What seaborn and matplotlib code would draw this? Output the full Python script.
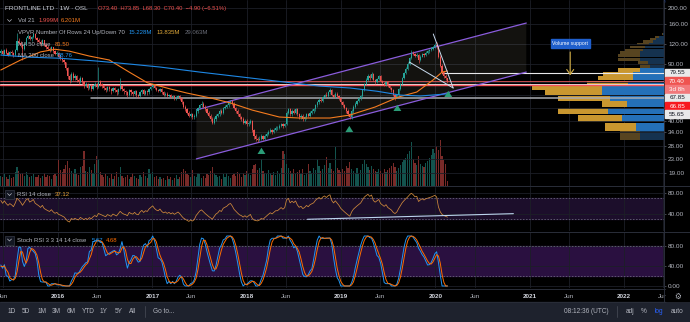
import numpy as np
import pandas as pd
import matplotlib
matplotlib.use("Agg")
import matplotlib.pyplot as plt
import matplotlib.dates as mdates
from matplotlib.ticker import FixedLocator, FuncFormatter, NullLocator
from matplotlib.patches import Rectangle, Polygon
from matplotlib.lines import Line2D
import seaborn as sns

# ---------------------------------------------------------------- data
last_week = "2020-02-17"
first_open = 106.0
closes = [
    108, 104, 110, 106, 103, 107, 105, 102, 110, 125,
    122, 118, 112, 120, 130, 135, 128, 132, 138, 130,
    127, 124, 120, 126, 118, 115, 112, 110, 114, 108,
    104, 106, 100, 98, 95, 92, 85, 76, 72, 78,
    74, 76, 72, 70, 74, 70, 66, 68, 64, 67,
    63, 66, 68, 65, 70, 68, 66, 64, 62, 65,
    63, 61, 64, 62, 60, 63, 66, 63, 61, 60,
    58, 62, 60, 59, 61, 58, 57, 60, 62, 59,
    61, 60, 63, 65, 67, 64, 62, 61, 63, 60,
    58, 59, 57, 58, 56, 57, 55, 56, 57, 55,
    52, 49, 47, 45, 43, 44, 42, 43, 46, 48,
    50, 51, 49, 47, 45, 43, 41, 39, 41, 43,
    44, 46, 45, 48, 49, 50, 52, 53, 51, 48,
    46, 44, 42, 41, 39, 40, 38, 39, 40, 35,
    32, 31, 30.5, 31, 32, 31, 32, 33, 34, 35,
    34, 35, 36, 36, 37, 38, 37, 38, 45, 47,
    44, 46, 45, 47, 44, 42, 43, 41, 42, 44,
    43, 45, 46, 47, 50, 52, 54, 53, 56, 58,
    57, 60, 62, 58, 56, 59, 57, 55, 52, 50,
    48, 46, 44, 42, 46, 49, 51, 53, 55, 57,
    62, 68, 72, 76, 74, 78, 72, 70, 73, 76,
    71, 69, 67, 70, 66, 64, 62, 58, 56, 58,
    63, 68, 74, 79, 84, 90, 98, 106, 104, 101,
    103, 95, 100, 104, 102, 106, 108, 110, 112, 115,
    118, 116, 100, 88, 80, 76, 73.4, 70.4,
]
highs = [
    111, 110, 112, 113, 108, 109, 110, 107, 112, 140,
    130, 125, 120, 122, 133, 138, 137, 135, 141, 140,
    133, 130, 126, 128, 127, 121, 118, 115, 116, 115,
    110, 108, 107, 103, 100, 97, 93, 86, 78, 80,
    80, 78, 77, 74, 76, 75, 71, 70, 69, 68,
    68, 67, 70, 69, 86, 72, 69, 67, 65, 66,
    66, 64, 65, 65, 63, 64, 74, 67, 64, 62,
    61, 63, 63, 61, 62, 62, 59, 61, 63, 63,
    62, 62, 64, 66, 68, 68, 65, 63, 64, 64,
    61, 60, 60, 59, 59, 58, 58, 57, 58, 58,
    56, 53, 50, 48, 46, 45, 45, 44, 47, 49,
    51, 53, 52, 50, 48, 46, 44, 42, 42, 44,
    45, 47, 47, 49, 50, 51, 53, 54, 54, 52,
    49, 47, 45, 43, 42, 41, 41, 40, 41, 40.5,
    35.5, 33, 31.5, 32, 33, 32.5, 33, 34, 35, 36,
    35.5, 36, 37, 37, 38, 39, 38.5, 39, 46, 48,
    48, 47, 47, 48, 48, 45, 44, 44, 43, 45,
    45, 46, 47, 48, 51, 53, 55, 56, 57, 59,
    60, 61, 64, 63, 59, 60, 60, 58, 56, 53,
    51, 49, 47, 45, 47, 50, 52, 54, 56, 58,
    63, 69, 74, 78, 78, 80, 79, 73, 74, 77,
    77, 72, 70, 71, 71, 67, 65, 63, 59, 59,
    64, 69, 75, 80, 86, 92, 100, 110, 108, 106,
    105, 104, 102, 106, 106, 108, 110, 112, 114, 117,
    121, 123, 117, 102, 90, 82, 78, 73.85,
]
lows = [
    104, 102, 103, 104, 101, 102, 103, 100, 101, 108,
    119, 115, 95, 110, 118, 128, 126, 125, 130, 128,
    124, 121, 117, 118, 116, 112, 110, 107, 108, 106,
    102, 101, 98, 95, 92, 90, 83, 73, 69, 70,
    72, 72, 70, 68, 69, 68, 64, 65, 62, 63,
    61, 62, 65, 63, 64, 66, 64, 62, 60, 61,
    61, 59, 60, 60, 58, 59, 62, 61, 59, 58,
    56, 57, 58, 57, 58, 56, 55, 56, 59, 58,
    58, 58, 59, 62, 64, 63, 61, 60, 60, 59,
    57, 57, 56, 56, 55, 55, 54, 54, 55, 54,
    51, 48, 46, 44, 42, 42, 41, 41, 42, 45,
    47, 49, 48, 46, 44, 42, 40, 38, 38, 40,
    42, 43, 44, 44, 47, 48, 49, 51, 50, 47,
    45, 43, 41, 40, 38, 38, 37, 37, 38, 34,
    31, 30, 29.5, 30, 30.5, 30.5, 30.5, 31.5, 32.5, 33.5,
    33, 33.5, 34.5, 35, 35.5, 36.5, 36, 36.5, 37.5, 44,
    43, 43, 44, 44, 43, 41, 41, 40, 40, 41,
    42, 42, 44, 45, 46, 49, 51, 52, 52, 55,
    56, 56, 59, 57, 55, 55, 56, 54, 51, 49,
    47, 45, 43, 41, 41, 45, 48, 50, 52, 54,
    56, 61, 67, 71, 72, 73, 71, 68, 69, 72,
    70, 68, 66, 66, 65, 63, 60, 57, 54, 55,
    57, 62, 67, 73, 78, 83, 89, 97, 102, 99,
    99, 91, 94, 99, 100, 101, 104, 106, 108, 110,
    113, 112, 98, 86, 78, 74, 72, 68.3,
]
volumes_m = [
    4.2, 3.5, 5.0, 3.8, 3.0, 4.5, 3.2, 3.6, 5.5, 7.6,
    6.0, 4.8, 5.2, 4.0, 5.5, 4.6, 3.8, 4.2, 5.0, 3.5,
    3.8, 4.5, 3.2, 4.0, 5.2, 3.6, 4.4, 3.9, 3.0, 4.6,
    5.0, 4.2, 11.0, 6.5, 5.8, 7.0, 8.5, 10.0, 7.2, 6.0,
    5.4, 6.8, 5.0, 4.6, 7.5, 8.0, 14.0, 6.2, 5.5, 7.8,
    6.4, 5.2, 9.0, 12.0, 11.0, 5.8, 4.4, 3.6, 5.0, 4.2,
    3.4, 4.8, 3.0, 4.0, 5.6, 3.8, 7.5, 4.2, 3.2, 3.8,
    4.5, 3.0, 3.6, 5.2, 4.0, 3.4, 2.8, 4.6, 3.8, 5.5,
    4.0, 3.2, 7.0, 4.8, 5.6, 3.6, 4.2, 3.0, 3.8, 2.8,
    3.4, 2.6, 4.0, 3.0, 3.6, 2.4, 3.2, 4.4, 3.0, 3.6,
    5.8, 7.0, 6.2, 5.0, 4.4, 3.8, 6.6, 4.0, 3.6, 5.2,
    4.8, 3.4, 4.0, 3.2, 5.0, 4.6, 6.0, 7.6, 5.2, 4.4,
    3.6, 4.2, 3.0, 4.8, 3.8, 5.4, 4.0, 3.4, 4.6, 5.0,
    4.2, 5.6, 4.8, 3.8, 5.2, 4.4, 6.0, 5.0, 4.6, 7.0,
    8.4, 9.0, 6.4, 7.2, 11.0, 6.0, 5.4, 4.8, 6.6, 5.2,
    4.4, 5.8, 4.6, 6.2, 5.0, 7.4, 14.0, 13.0, 9.0, 7.2,
    6.0, 5.2, 6.8, 4.8, 5.6, 6.4, 5.0, 7.0, 4.6, 5.4,
    9.0, 6.0, 5.2, 7.4, 6.6, 11.0, 8.0, 6.2, 7.0, 8.6,
    11.6, 7.4, 9.2, 6.8, 6.0, 15.6, 7.2, 6.4, 5.8, 7.0,
    6.2, 8.0, 7.4, 9.6, 6.8, 6.0, 5.4, 7.2, 5.0, 6.4,
    8.8, 10.4, 9.0, 7.6, 6.4, 8.2, 7.0, 6.0, 5.6, 6.8,
    6.2, 5.4, 7.0, 5.8, 6.6, 7.4, 8.0, 9.2, 7.6, 6.0,
    7.2, 8.6, 9.8, 10.6, 11.4, 12.8, 14.0, 17.6, 11.0, 9.4,
    8.6, 12.0, 9.0, 8.2, 7.6, 9.4, 10.0, 11.4, 12.6, 15.0,
    13.2, 16.0, 14.4, 18.4, 12.0, 10.4, 9.0, 2.0,
]
# weeks left of the visible range (only feed the RSI / Stoch RSI warm-up)
closes_prior = [
    68, 72, 70, 66, 64, 70, 74, 72, 76, 80, 78, 74,
    70, 76, 82, 86, 84, 80, 85, 90, 88, 94, 98, 92,
    96, 100, 97, 94, 99, 104, 101, 98, 103, 107, 104, 106,
]

ma50_weeks = [0, 11, 22, 30, 38, 49, 60, 71, 81, 94, 103, 116, 127, 139,
              154, 165, 182, 193, 207, 220, 230, 239, 244, 247]
ma50_values = [82.6, 95.3, 107.0, 111.1, 108.1, 100.8, 95.3, 80.2, 68.9, 62.9,
               59.4, 55.4, 51.6, 46.6, 42.2, 41.6, 41.6, 43.4, 48.7, 56.2,
               60.3, 71.6, 80.2, 81.5]
ma200_weeks = [0, 16, 33, 53, 71, 88, 110, 138, 160, 176, 193, 208, 221, 232, 247]
ma200_values = [102.3, 99.2, 97.7, 93.9, 90.0, 86.2, 80.2, 73.7, 68.9, 65.7,
                63.9, 61.0, 57.7, 57.0, 58.76]

vpvr_low, vpvr_high = 30.0, 140.0
vpvr_up_m = [0.54, 0.63, 0.95, 1.26, 0.83, 1.22, 1.40, 1.40, 0.81, 0.70, 0.70, 0.54,
             0.32, 0.36, 0.54, 0.54, 0.54, 0.47, 0.43, 0.34, 0.25, 0.18, 0.11, 0.02]
vpvr_down_m = [0.45, 0.70, 0.99, 1.13, 0.56, 1.17, 1.28, 1.58, 0.92, 0.79, 0.68, 0.50,
               0.23, 0.23, 0.50, 0.50, 0.45, 0.41, 0.34, 0.27, 0.23, 0.14, 0.09, 0.02]

price_ticks = [19, 23, 28, 34, 40, 48, 58, 70, 90, 120, 160, 200]
hidden_ticks = [48, 58, 70]
close_price = 70.40
tag_levels = [79.55, 70.40, 70.40, 67.85, 66.85, 55.65]
tag_texts = ["79.55", "70.40", "3d 8h", "67.85", "66.85", "55.65"]

channel_dates = ["2017-06-20", "2020-12-18"]
channel_upper = [46.7, 161.6]
channel_lower = [23.2, 80.2]
wedge_a_dates = ["2019-09-22", "2020-03-10"]
wedge_a = [92.6, 63.9]
wedge_b_dates = ["2019-12-24", "2020-03-10"]
wedge_b = [138.2, 63.9]
arrow_dates = ["2018-02-27", "2019-02-02", "2019-08-07", "2020-02-20"]
arrow_tips = [28.3, 38.7, 52.3, 63.9]
hline_white_start = "2020-01-27"
hline_gray_start = "2016-05-10"
vs_date = "2021-06-06"
vs_label_price, vs_from, vs_to = 120.6, 111.2, 73.6
rsi_trend_dates = ["2018-08-24", "2020-10-29"]
rsi_trend_vals = [29.9, 40.6]

x_tick_dates = ["2015-06-01", "2016-01-01", "2016-06-01", "2017-01-01", "2017-06-01",
                "2018-01-01", "2018-06-01", "2019-01-01", "2019-06-01", "2020-01-01",
                "2020-06-01", "2021-01-01", "2021-06-01", "2022-01-01", "2022-06-01"]
x_range = ["2015-05-22", "2022-06-04"]

assert len(closes) == len(highs) == len(lows) == len(volumes_m)

# ---------------------------------------------------------------- style
sns.set_style("dark")
plt.rcParams["font.family"] = ["Liberation Sans", "DejaVu Sans"]
BG = "#000000"
GRID = "#1c1f27"
TXT = "#b2b5be"
UP, DN = "#26a69a", "#ef5350"
VUP, VDN = "#13534d", "#782a28"
FS = 4.3

W, H = 690, 322
fig = plt.figure(figsize=(W / 100, H / 100), dpi=100, facecolor=BG)


def rect(x0, y0, x1, y1):
    return [x0 / W, 1 - y1 / H, (x1 - x0) / W, (y1 - y0) / H]


def fx(xv):
    return xv / W


def fy(yv):
    return 1 - yv / H


# ---------------------------------------------------------------- derived series
dates = pd.date_range(end=last_week, periods=len(closes), freq="W-MON")
x = mdates.date2num(dates)
c = np.array(closes, float)
o = np.array([first_open] + closes[:-1], float)
up = c >= o

allc = pd.Series(closes_prior + closes, dtype=float)
d = allc.diff().fillna(0)
g = d.clip(lower=0).ewm(alpha=1 / 14, adjust=False).mean()
l_ = (-d.clip(upper=0)).ewm(alpha=1 / 14, adjust=False).mean()
rsi = 100 - 100 / (1 + g / l_)
lo14 = rsi.rolling(14).min()
hi14 = rsi.rolling(14).max()
stoch = 100 * (rsi - lo14) / (hi14 - lo14)
k = stoch.rolling(3).mean()
dd = k.rolling(3).mean()
n0 = len(closes_prior)
rsi_v = rsi.values[n0:]
k_v = k.values[n0:]
d_v = dd.values[n0:]

xl = mdates.date2num(pd.to_datetime(x_range))
xt = mdates.date2num(pd.to_datetime(x_tick_dates))

# ---------------------------------------------------------------- axes
ax = fig.add_axes(rect(0, 0, 664, 186))
ax_vp = fig.add_axes(rect(0, 0, 664, 186), sharey=ax)
ax_vol = fig.add_axes(rect(0, 0, 664, 186), sharex=ax)
ax_rsi = fig.add_axes(rect(0, 187, 664, 231), sharex=ax)
ax_st = fig.add_axes(rect(0, 232, 664, 288), sharex=ax)
ax_vol.set_zorder(1)
ax_vp.set_zorder(2)
ax.set_zorder(3)
for a in (ax, ax_vp):
    a.patch.set_visible(False)
for a in (ax_vol, ax_rsi, ax_st):
    a.set_facecolor(BG)
for a in (ax, ax_vp, ax_vol, ax_rsi, ax_st):
    for s in a.spines.values():
        s.set_visible(False)

ax.set_yscale("log")
ax.set_xlim(*xl)
ax.set_ylim(15.75, 224.6)

# volume
ax_vol.bar(x, volumes_m, width=4.6, color=np.where(up, VUP, VDN), linewidth=0)
ax_vol.set_ylim(0, 186 / 2.5)
ax_vol.set_yticks([])
ax_vol.tick_params(axis="x", bottom=False, labelbottom=False)
ax_vol.xaxis.set_major_locator(FixedLocator(xt))
ax_vol.grid(axis="x", color=GRID, lw=0.6)

# VPVR
nb = len(vpvr_up_m)
edges = np.linspace(vpvr_low, vpvr_high, nb + 1)
centers = (edges[:-1] + edges[1:]) / 2
bh = edges[1] - edges[0]
upv = np.array(vpvr_up_m)
dnv = np.array(vpvr_down_m)
tot = upv + dnv
poc = int(tot.argmax())
lo_i = hi_i = poc
acc = tot[poc]
while acc < 0.7 * tot.sum():
    below = tot[lo_i - 1] if lo_i > 0 else -1
    above = tot[hi_i + 1] if hi_i < nb - 1 else -1
    if above >= below:
        hi_i += 1
        acc += tot[hi_i]
    else:
        lo_i -= 1
        acc += tot[lo_i]
in_va = (np.arange(nb) >= lo_i) & (np.arange(nb) <= hi_i)
ax_vp.barh(centers, upv, height=bh * 0.92, left=0,
           color=np.where(in_va, "#2470b8", "#15324f"), linewidth=0)
ax_vp.barh(centers, dnv, height=bh * 0.92, left=upv,
           color=np.where(in_va, "#c9972f", "#574420"), linewidth=0)
ax_vp.set_xlim(15.0, 0)
ax_vp.tick_params(axis="both", left=False, labelleft=False, bottom=False,
                  labelbottom=False, right=False, labelright=False)

# price grid / ticks
ax.yaxis.set_major_locator(FixedLocator(price_ticks))
ax.yaxis.set_minor_locator(NullLocator())
ax.yaxis.set_major_formatter(FuncFormatter(
    lambda v, p: "" if round(v) in hidden_ticks else f"{v:.2f}"))
ax.yaxis.tick_right()
ax.tick_params(axis="y", which="both", length=1.5, width=0.5, color="#5d606b",
               pad=1.5, labelsize=4.6, labelcolor=TXT)
ax.xaxis.set_major_locator(FixedLocator(xt))
ax.tick_params(axis="x", bottom=False, labelbottom=False)
ax.grid(axis="y", color=GRID, lw=0.6)
ax.set_axisbelow(True)

# channel
cx = mdates.date2num(pd.to_datetime(channel_dates))
ax.add_patch(Polygon([(cx[0], channel_upper[0]), (cx[1], channel_upper[1]),
                      (cx[1], channel_lower[1]), (cx[0], channel_lower[0])],
                     closed=True, facecolor="#d8ccb0", alpha=0.09, edgecolor="none", zorder=1))
ax.plot(cx, channel_upper, color="#8a5cdc", lw=0.9, zorder=5)
ax.plot(cx, channel_lower, color="#8a5cdc", lw=0.9, zorder=5)

# horizontal levels
ax.axhline(close_price, color="#e2575a", lw=0.6, zorder=2)
ax.axhline(67.85, color="#e8e8ea", lw=0.7, zorder=2)
ax.axhline(66.85, color="#f6535a", lw=1.0, zorder=2)
ax.plot([mdates.date2num(pd.Timestamp(hline_white_start)), xl[1]], [79.55, 79.55],
        color="#e8e8ea", lw=0.8, zorder=2)
ax.plot([mdates.date2num(pd.Timestamp(hline_gray_start)), xl[1]], [55.65, 55.65],
        color="#a9abb2", lw=1.1, zorder=2)

# candles
ccol = np.where(up, UP, DN)
ax.vlines(x, lows, highs, colors=ccol, lw=0.45, zorder=6)
ax.bar(x, np.maximum(np.abs(c - o), 0.12), bottom=np.minimum(o, c), width=4.6,
       color=ccol, linewidth=0, zorder=7)

# moving averages
sns.lineplot(x=x[ma50_weeks], y=ma50_values, ax=ax, color="#f57c1f", lw=0.8,
             legend=False, zorder=8)
sns.lineplot(x=x[ma200_weeks], y=ma200_values, ax=ax, color="#1e88e5", lw=0.8,
             legend=False, zorder=8)

# wedge
ax.plot(mdates.date2num(pd.to_datetime(wedge_a_dates)), wedge_a, color="#c9dbee", lw=0.7, zorder=9)
ax.plot(mdates.date2num(pd.to_datetime(wedge_b_dates)), wedge_b, color="#c9dbee", lw=0.7, zorder=9)

# green arrows
for dt, tip in zip(arrow_dates, arrow_tips):
    ax.annotate("", xy=(mdates.date2num(pd.Timestamp(dt)), tip), xytext=(0, -8.5),
                textcoords="offset pixels",
                arrowprops=dict(arrowstyle="simple,head_length=0.75,head_width=0.95,tail_width=0.42",
                                color="#2b9c77", lw=0, mutation_scale=6), zorder=10)

# volume support
xvs = mdates.date2num(pd.Timestamp(vs_date))
ax.annotate("", xy=(xvs, vs_to), xytext=(xvs, vs_from),
            arrowprops=dict(arrowstyle="->,head_length=0.35,head_width=0.25",
                            color="#d2ad45", lw=0.8), zorder=10)
ax.text(xvs, vs_label_price, "Volume support", ha="center", va="center", fontsize=3.7,
        color="white", zorder=11,
        bbox=dict(boxstyle="square,pad=0.3", fc="#1f5fcc", ec="#1f5fcc"))

# RSI pane
ax_rsi.set_ylim(7.6, 91.4)
ax_rsi.axhspan(30, 70, color="#1c0e2b", zorder=0)
for v in (70, 30):
    ax_rsi.axhline(v, color="#6d6a80", lw=0.55, ls=(0, (2, 2)), zorder=1)
sns.lineplot(x=x, y=rsi_v, ax=ax_rsi, color="#d08a3c", lw=0.55, legend=False, zorder=3)
ax_rsi.plot(mdates.date2num(pd.to_datetime(rsi_trend_dates)), rsi_trend_vals,
            color="#bcd4ee", lw=0.8, zorder=4)
ax_rsi.yaxis.set_major_locator(FixedLocator([40, 80]))
ax_rsi.yaxis.set_major_formatter(FuncFormatter(lambda v, p: f"{v:.2f}"))
ax_rsi.yaxis.tick_right()
ax_rsi.tick_params(axis="y", length=1.5, width=0.5, color="#5d606b", pad=1.5,
                   labelsize=4.6, labelcolor=TXT)
ax_rsi.tick_params(axis="x", bottom=False, labelbottom=False)
ax_rsi.grid(axis="both", color=GRID, lw=0.6)
ax_rsi.set_axisbelow(True)

# Stoch RSI pane
ax_st.set_ylim(-4, 108)
ax_st.axhspan(20, 80, color="#2a1040", zorder=0)
for v in (80, 20):
    ax_st.axhline(v, color="#6d6a80", lw=0.55, ls=(0, (2, 2)), zorder=1)
sns.lineplot(x=x, y=k_v, ax=ax_st, color="#2196f3", lw=0.7, legend=False, zorder=3)
sns.lineplot(x=x, y=d_v, ax=ax_st, color="#ff6d00", lw=0.7, legend=False, zorder=4)
ax_st.yaxis.set_major_locator(FixedLocator([0, 40, 80]))
ax_st.yaxis.set_major_formatter(FuncFormatter(lambda v, p: f"{v:.2f}"))
ax_st.yaxis.tick_right()
ax_st.tick_params(axis="y", length=1.5, width=0.5, color="#5d606b", pad=1.5,
                  labelsize=4.6, labelcolor=TXT)
ax_st.grid(axis="both", color=GRID, lw=0.6)
ax_st.set_axisbelow(True)
ax_st.xaxis.set_major_locator(FixedLocator(xt))
ax_st.xaxis.set_major_formatter(FuncFormatter(
    lambda v, p: mdates.num2date(v).strftime("%Y") if mdates.num2date(v).month == 1
    else mdates.num2date(v).strftime("%b")))
ax_st.tick_params(axis="x", length=0, pad=4, labelsize=4.6, labelcolor=TXT)
for a in (ax, ax_rsi, ax_st, ax_vol):
    a.set_xlim(*xl)
for lbl, dt in zip(ax_st.get_xticklabels(), x_tick_dates):
    if dt.endswith("01-01"):
        lbl.set_fontweight("bold")
        lbl.set_color("#d1d4dc")

# ---------------------------------------------------------------- figure furniture
for yy in (186.5, 231.5, 288.5):
    fig.add_artist(Line2D([0, 1], [fy(yy), fy(yy)], color="#2a2e39", lw=0.7))
fig.add_artist(Line2D([fx(664.3), fx(664.3)], [fy(0), fy(302)], color="#2a2e39", lw=0.7))
fig.add_artist(Rectangle((fx(632), fy(1.5)), fx(32), 1.5 / H, color="#2962ff"))
# cover for the clipped right-hand x label + settings glyph
fig.add_artist(Rectangle((fx(666), fy(301)), fx(24), 12 / H, color=BG, zorder=5))
fig.text(fx(678), fy(296), "\u2699", fontsize=5.5, color=TXT, ha="center", va="center",
         family="DejaVu Sans", zorder=6)

# price tags on the scale (stacked like the platform does)
fig.canvas.draw()
tag_colors = [("#e9e9ea", "#131722"), ("#ef5350", "white"), ("#f2787b", "white"),
              ("#e9e9ea", "#131722"), ("#f7191f", "white"), ("#e9e9ea", "#131722")]
prev = -100
for lv, txt, (fc, tc) in zip(tag_levels, tag_texts, tag_colors):
    ypix = H - ax.transData.transform((xl[0], lv))[1]
    ypix = max(ypix, prev + 8.3)
    prev = ypix
    fig.add_artist(Rectangle((fx(664.5), fy(ypix + 4)), fx(25.5), 8 / H, color=fc, zorder=7))
    fig.text(fx(677), fy(ypix), txt, fontsize=4.5, color=tc, ha="center", va="center", zorder=8)

# header / legends
fig.text(fx(5), fy(8.5), "FRONTLINE LTD \u00b7 1W \u00b7 OSL", fontsize=4.6, color="#d1d4dc",
         va="center")
fig.text(fx(98), fy(8.5), "O73.40  H73.85  L68.30  C70.40  \u22124.90 (\u22126.51%)",
         fontsize=4.2, color=DN, va="center")


def chevron(xc, yc):
    fig.add_artist(Rectangle((fx(xc - 4.5), fy(yc + 4.5)), fx(9), 9 / H, facecolor="#131722",
                             edgecolor="#363a45", lw=0.5))
    fig.add_artist(Line2D([fx(xc - 2), fx(xc), fx(xc + 2)], [fy(yc - 1), fy(yc + 1), fy(yc - 1)],
                          color=TXT, lw=0.5))


chevron(9.5, 20.5)
fig.text(fx(18), fy(20.5), "Vol 21", fontsize=FS, color=TXT, va="center")
fig.text(fx(39), fy(20.5), "1.999M", fontsize=FS, color=DN, va="center")
fig.text(fx(61), fy(20.5), "6.201M", fontsize=FS, color="#f57c1f", va="center")
fig.text(fx(18), fy(32.5), "VPVR Number Of Rows 24 Up/Down 70", fontsize=FS, color=TXT, va="center")
fig.text(fx(129), fy(32.5), "15.228M", fontsize=FS, color="#2196f3", va="center")
fig.text(fx(157), fy(32.5), "13.835M", fontsize=FS, color="#e0a93a", va="center")
fig.text(fx(185), fy(32.5), "29.063M", fontsize=FS, color="#6a6d78", va="center")
fig.text(fx(18), fy(44), "MA 50 close", fontsize=FS, color=TXT, va="center")
fig.text(fx(55), fy(44), "81.50", fontsize=FS, color="#f57c1f", va="center")
fig.text(fx(18), fy(55.5), "MA 200 close", fontsize=FS, color=TXT, va="center")
fig.text(fx(58), fy(55.5), "58.76", fontsize=FS, color="#2196f3", va="center")

chevron(9.5, 194.5)
fig.text(fx(17), fy(194.5), "RSI 14 close", fontsize=FS, color=TXT, va="center")
fig.text(fx(55), fy(194.5), "37.12", fontsize=FS, color="#e8a23a", va="center")
chevron(9.5, 240)
fig.text(fx(17), fy(240), "Stoch RSI 3 3 14 14 close", fontsize=FS, color=TXT, va="center")
fig.text(fx(92), fy(240), "5.67", fontsize=FS, color="#2196f3", va="center")
fig.text(fx(106), fy(240), "4.68", fontsize=FS, color="#ff6d00", va="center")

# bottom toolbar
fig.add_artist(Rectangle((0, 0), 1, 20 / H, color="#1e222d", zorder=1))
fig.add_artist(Line2D([0, 1], [fy(302), fy(302)], color="#2a2e39", lw=0.6))
for lab, xp in zip(["1D", "5D", "1M", "3M", "6M", "YTD", "1Y", "5Y", "All"],
                   [12, 26, 42, 56, 71, 88, 104, 119, 133]):
    fig.text(fx(xp), fy(311.5), lab, fontsize=4.7, color=TXT, ha="center", va="center", zorder=2)
fig.text(fx(153), fy(311.5), "Go to...", fontsize=4.7, color=TXT, va="center", zorder=2)
fig.text(fx(586), fy(311.5), "08:12:36 (UTC)", fontsize=4.7, color=TXT, ha="center",
         va="center", zorder=2)
for lab, xp, cl in [("adj", 630, TXT), ("%", 644, TXT), ("log", 659, "#2962ff"), ("auto", 677, TXT)]:
    fig.text(fx(xp), fy(311.5), lab, fontsize=4.7, color=cl, ha="center", va="center", zorder=2)
for xp in (145, 617):
    fig.add_artist(Line2D([fx(xp), fx(xp)], [fy(306), fy(317)], color="#434651", lw=0.6, zorder=2))

fig.savefig("out.png", dpi=100, facecolor=BG)
